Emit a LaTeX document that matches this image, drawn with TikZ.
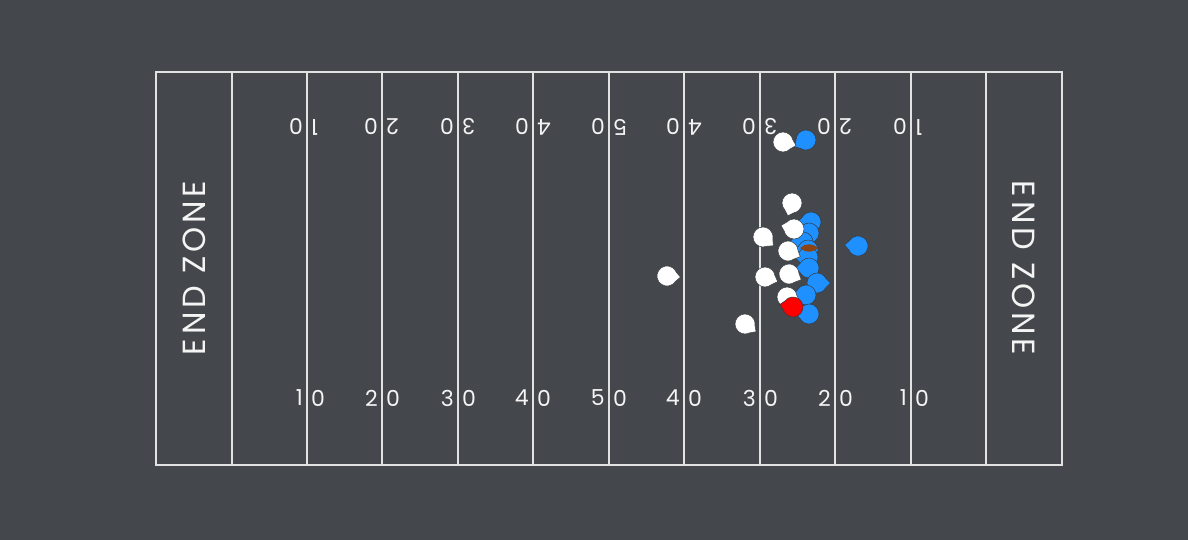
\documentclass[tikz,border=0pt]{standalone}
\usepackage{fontspec}
\setmainfont{Poppins}
\definecolor{bg}{HTML}{44474C}
\definecolor{fieldline}{HTML}{E2E2E2}
\definecolor{numcol}{HTML}{F4F4F4}
\definecolor{bluep}{HTML}{1E90FF}
\definecolor{redp}{HTML}{FF0000}
\definecolor{whitep}{HTML}{FFFFFF}
\definecolor{ballc}{HTML}{8B4513}
\newfontfamily\ezfont[LetterSpace=12]{Poppins}
\tikzset{
  yardline/.style={draw=fieldline, line width=1.3pt},
  numtxt/.style={text=numcol, font=\fontsize{22}{22}\selectfont, inner sep=0pt},
  eztxt/.style={text=numcol, font=\ezfont\fontsize{32}{32}\selectfont, inner sep=0pt},
  player/.pic={\path[pic actions, draw=bg!80!black, line width=0.5pt]
     (#1+28:10) arc[start angle=#1+28, end angle=#1+332, radius=10] -- (#1:13.5) -- cycle;},
}
\begin{document}
\begin{tikzpicture}[x=1pt,y=-1pt]
\fill[bg] (0,0) rectangle (1188,540);
\useasboundingbox (0,0) rectangle (1188,540);
% field
\draw[yardline] (156,72) rectangle (1062,465);
\foreach \x in {232,307,382,458,533,609,684,760,835,911,986}
  \draw[yardline] (\x,72) -- (\x,465);
% end zones
\node[eztxt, rotate=90] (ezl) at (194,268) {END ZONE};
\node[eztxt, rotate=-90] (ezr) at (1024,268) {END ZONE};
% numbers
\foreach \x/\a/\b [count=\i] in {307/1/0,382/2/0,458/3/0,533/4/0,609/5/0,684/4/0,760/3/0,835/2/0,911/1/0}{
  \node[numtxt, anchor=east] (bn\i a) at (\x-4,398) {\a};
  \node[numtxt, anchor=west] (bn\i b) at (\x+4,398) {\b};
  \node[numtxt, anchor=east, rotate=180] (tn\i a) at (\x+4,127) {\a};
  \node[numtxt, anchor=west, rotate=180] (tn\i b) at (\x-4,127) {\b};
}
% defense (blue)
\foreach \px/\py/\ang in {806/140/150, 858/246/185, 811/222/180, 809/233/180, 803/242/180, 808/250/180, 808/257/180, 809/268/180, 817/283/0, 806/295/180, 809/314/180}
  \pic[fill=bluep] at (\px,\py) {player=\ang};
% offense (white)
\foreach \px/\py/\ang in {783/142/15, 792/203/108, 794/229/195, 763/237/40, 788/251/25, 667/276/5, 765/277/20, 789/274/25, 787/297/20, 745/324/35}
  \pic[fill=whitep] at (\px,\py) {player=\ang};
% ball carrier (red)
\pic[fill=redp] at (793,307) {player=190};
% ball
\fill[ballc] (800,248) .. controls (805,243) and (813,243) .. (818,248) .. controls (813,253) and (805,253) .. (800,248) -- cycle;
\end{tikzpicture}
\end{document}
